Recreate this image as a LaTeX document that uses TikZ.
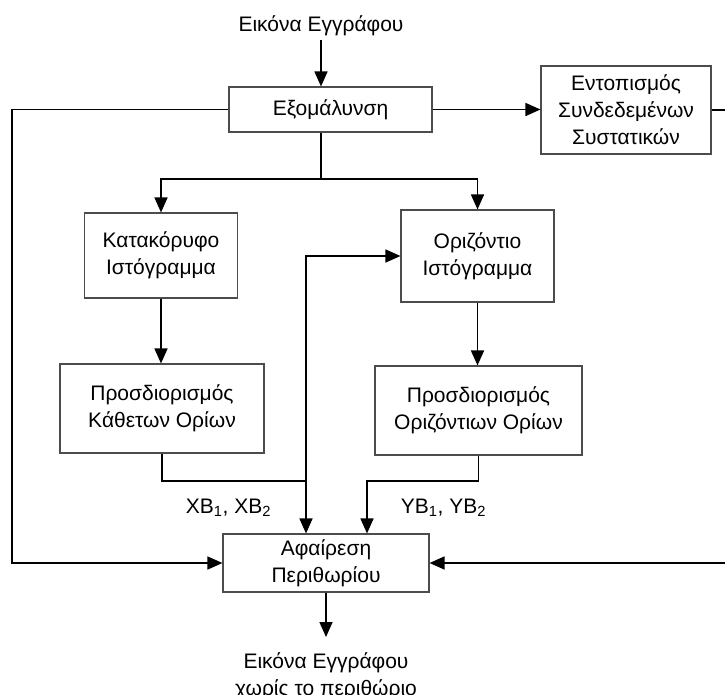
\documentclass[tikz,border=0pt]{standalone}
\usepackage{fontspec}
\setmainfont{Liberation Sans}
\usetikzlibrary{arrows.meta, positioning}

\begin{document}
\begin{tikzpicture}[x=1pt, y=-1pt, >={Triangle[length=15pt, width=13pt]}, line width=1.6pt,
    box/.style={draw=black!70, line width=1.1pt, align=center, inner sep=0pt,
        font=\fontsize{21}{27}\selectfont},
    lbl/.style={align=center, font=\fontsize{21}{27}\selectfont}]
        \useasboundingbox (0,0) rectangle (725,694);
        \node[lbl, anchor=south, inner ysep=3pt] (doc) at (321,40) {Εικόνα Εγγράφου};
        \node[box, minimum width=203pt, minimum height=45pt] (smooth) at (330.5,109.5) {Εξομάλυνση};
        \node[box, minimum width=170pt, minimum height=88pt] (ccl) at (626,110) {Εντοπισμός\\Συνδεδεμένων\\Συστατικών};
        \node[box, minimum width=153pt, minimum height=85pt] (vhist) at (161,255.5) {Κατακόρυφο\\Ιστόγραμμα};
        \node[box, minimum width=153pt, minimum height=92pt] (hhist) at (477.5,256) {Οριζόντιο\\Ιστόγραμμα};
        \node[box, minimum width=204pt, minimum height=89pt] (vbound) at (162,408.5) {Προσδιορισμός\\Κάθετων Ορίων};
        \node[box, minimum width=207pt, minimum height=89pt] (hbound) at (478.5,410.5) {Προσδιορισμός\\Οριζόντιων Ορίων};
        \node[box, minimum width=206pt, minimum height=58pt] (remove) at (326,563) {Αφαίρεση\\Περιθωρίου};
        \node[lbl, anchor=north, inner ysep=15pt] (out) at (326,637) {Εικόνα Εγγράφου\\χωρίς το περιθώριο};
        \node[lbl] (xb) at (228.5,508) {XB\textsubscript{1}, XB\textsubscript{2}};
        \node[lbl] (yb) at (443.5,508) {YB\textsubscript{1}, YB\textsubscript{2}};
        \coordinate (lt) at (12,0);
        \coordinate (rt) at (728,0);
        \coordinate (fork) at (321,179);
        \coordinate (xjoin) at (306,481);
        \coordinate (yjoin) at (367,481);
        \draw[->] (doc.south) -- (doc.south |- smooth.north);
        \draw[->] (smooth.east) -- (smooth.east -| ccl.west);
        \draw[->] (ccl.east) -- (ccl.east -| rt) |- (remove.east);
        \draw[->] (smooth.west) -- (smooth.west -| lt) |- (remove.west);
        \draw (smooth.south -| fork) -- (fork);
        \draw[->] (fork) -| (vhist.north);
        \draw[->] (fork) -| (hhist.north);
        \draw[->] (vhist.south) -- (vhist.south |- vbound.north);
        \draw[->] (hhist.south) -- (hhist.south |- hbound.north);
        \draw[->] (vbound.south) |- (xjoin) -- (xjoin |- remove.north);
        \draw[->] (xjoin) |- (hhist.west);
        \draw[->] (hbound.south) |- (yjoin) -- (yjoin |- remove.north);
        \draw[->] (remove.south) -- (out.north);
    \end{tikzpicture}
\end{document}
